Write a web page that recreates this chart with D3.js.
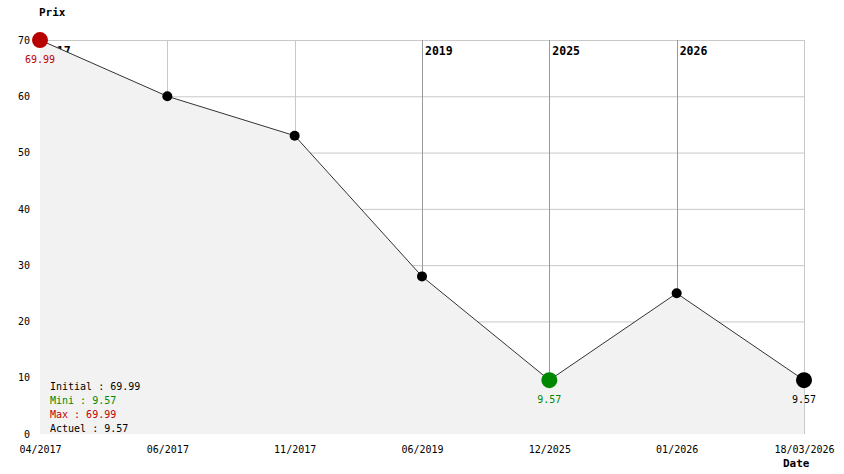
<!DOCTYPE html>
<html><head><meta charset="utf-8">
<script src="https://cdn.jsdelivr.net/npm/d3@7"></script>
<style>
body{margin:0;background:#fff;}
svg{display:block;}
text{font-family:"DejaVu Sans Mono",monospace;}
</style></head>
<body><svg id="c" width="844" height="474"></svg>
<script>
const categories = ["04/2017","06/2017","11/2017","06/2019","12/2025","01/2026","18/03/2026"];
const prices = [69.99, 60, 53, 28, 9.57, 25, 9.57];
const yTicks = [0,10,20,30,40,50,60,70];
const legendLines = [
  {label:"Initial : 69.99", color:"#000"},
  {label:"Mini : 9.57", color:"#008800"},
  {label:"Max : 69.99", color:"#c00000"},
  {label:"Actuel : 9.57", color:"#000"}
];

const svg = d3.select("#c");
const x = d3.scalePoint().domain(categories).range([40,804]).padding(0);
const y = d3.scaleLinear().domain([0,70]).range([434,40]);
const data = categories.map((c,i)=>({c, v:prices[i], i}));

const yearOf = c => c.split("/").pop();
const markers = data.filter((d,i)=> i===0 || yearOf(d.c)!==yearOf(categories[i-1]));
const markerSet = new Set(markers.map(d=>d.c));

const g = svg.append("g");
// horizontal grid
g.selectAll("line.h").data(yTicks.filter(t=>t>0)).join("line")
  .attr("x1",x(categories[0])).attr("x2",x(categories[categories.length-1]))
  .attr("y1",d=>y(d)+0.5).attr("y2",d=>y(d)+0.5)
  .attr("stroke","#c8c8c8").attr("stroke-width",1);
// vertical grid
g.selectAll("line.v").data(categories).join("line")
  .attr("x1",d=>Math.round(x(d))+0.5).attr("x2",d=>Math.round(x(d))+0.5)
  .attr("y1",y(70)).attr("y2",y(0))
  .attr("stroke",d=>markerSet.has(d)?"#999":"#c8c8c8").attr("stroke-width",1);

// year labels (drawn under the area fill)
g.selectAll("text.yr").data(markers).join("text")
  .attr("x",d=>x(d.c)+3).attr("y",55)
  .attr("font-size","11.5px").attr("font-weight","bold").attr("fill","#000")
  .text(d=>yearOf(d.c));

// area
const area = d3.area().x(d=>x(d.c)).y0(y(0)).y1(d=>y(d.v));
g.append("path").datum(data).attr("d",area).attr("fill","#f2f2f2");

// line
const line = d3.line().x(d=>x(d.c)).y(d=>y(d.v));
g.append("path").datum(data).attr("d",line).attr("fill","none").attr("stroke","#333").attr("stroke-width",1);

// points
const minV = d3.min(prices), maxV = d3.max(prices);
const iMin = prices.indexOf(minV), iMax = prices.indexOf(maxV), iLast = prices.length-1;
function ptColor(i){ if(i===iMax) return "#b80000"; if(i===iMin) return "#008800"; return "#000"; }
function ptR(i){ return (i===iMax||i===iMin||i===iLast)?8:5; }
g.selectAll("circle").data(data).join("circle")
  .attr("cx",d=>x(d.c)).attr("cy",d=>y(d.v))
  .attr("r",d=>ptR(d.i)).attr("fill",d=>ptColor(d.i));

// value labels
const labeled = [iMax,iMin,iLast].map(i=>data[i]);
g.selectAll("text.val").data(labeled).join("text")
  .attr("x",d=>x(d.c)).attr("y",d=>y(d.v)+23)
  .attr("text-anchor","middle").attr("font-size","10px")
  .attr("fill",d=>d.i===iMax?"#c00000":(d.i===iMin?"#008800":"#000"))
  .text(d=>d.v.toFixed(2));

// y axis labels
const ya = g.append("g").attr("transform","translate(30,0)")
  .call(d3.axisLeft(y).tickValues(yTicks).tickSize(0).tickPadding(0));
ya.select(".domain").remove();
ya.selectAll("text").attr("font-family","DejaVu Sans, sans-serif").attr("font-size","10px").attr("fill","#000");

// x axis labels
const xa = g.append("g").attr("transform","translate(0,446)")
  .call(d3.axisBottom(x).tickSize(0).tickPadding(0));
xa.select(".domain").remove();
xa.selectAll("text").attr("font-family","DejaVu Sans Mono, monospace").attr("font-size","10px").attr("fill","#000");

// axis titles
svg.append("text").attr("x",39).attr("y",16).attr("font-size","11px").attr("font-weight","bold").text("Prix");
svg.append("text").attr("x",783).attr("y",467).attr("font-size","11px").attr("font-weight","bold").text("Date");

// legend
svg.selectAll("text.leg").data(legendLines).join("text")
  .attr("x",50).attr("y",(d,i)=>390+i*14)
  .attr("font-size","10px").attr("fill",d=>d.color).text(d=>d.label);
</script></body></html>
